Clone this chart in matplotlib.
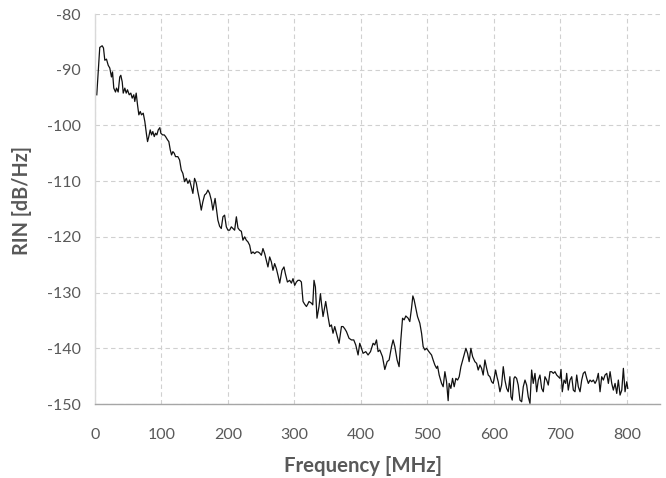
import matplotlib
matplotlib.use("Agg")
import matplotlib.pyplot as plt

freq_mhz = [2.7, 7.2, 10.8, 12.8, 14.8, 17.3, 19.9, 22.3, 24.8, 26.4, 28.3, 30.9, 32.4, 34.9, 37.3, 38.9,
            41.0, 42.5, 44.9, 47.0, 48.9, 51.5, 53.9, 56.0, 58.4, 59.9, 62.0, 64.0, 66.0, 68.1, 70.0, 72.6,
            75.0, 77.6, 79.1, 81.0, 83.1, 85.1, 87.0, 89.2, 91.1, 93.1, 95.2, 97.6, 99.1, 101.7, 104.2, 106.2,
            109.2, 111.1, 113.3, 115.2, 117.2, 119.3, 121.2, 124.7, 127.3, 129.8, 132.2, 134.8, 137.3, 139.8,
            142.3, 144.9, 147.3, 149.8, 152.4, 154.8, 157.4, 159.9, 162.3, 164.9, 167.5, 169.9, 172.4, 175.0,
            177.4, 180.7, 182.5, 184.9, 187.5, 190.0, 192.5, 195.0, 197.6, 200.0, 202.6, 205.1, 207.5, 210.1,
            212.7, 215.1, 217.6, 220.2, 222.6, 225.2, 227.7, 230.1, 232.7, 235.2, 237.7, 240.2, 242.8, 245.2,
            247.7, 250.3, 252.7, 255.3, 257.8, 260.2, 262.8, 265.4, 267.8, 270.3, 272.9, 275.3, 277.9, 281.3,
            284.3, 286.4, 289.5, 292.9, 295.5, 297.9, 300.5, 303.0, 305.4, 308.0, 310.5, 313.0, 315.5, 318.1,
            320.0, 322.0, 325.6, 327.6, 329.5, 331.6, 334.0, 337.0, 339.2, 340.7, 343.1, 347.1, 350.6, 353.2,
            355.7, 358.1, 360.7, 363.3, 365.2, 367.2, 370.8, 373.2, 375.8, 378.3, 382.2, 385.8, 389.3, 392.3,
            395.8, 398.3, 400.9, 403.3, 407.4, 410.8, 414.5, 418.4, 420.9, 423.5, 425.9, 428.5, 432.5, 436.0,
            439.5, 442.5, 446.1, 448.5, 451.1, 454.5, 457.5, 460.1, 462.7, 465.1, 467.6, 471.1, 473.6, 476.2,
            478.2, 480.1, 482.2, 485.2, 488.7, 491.3, 493.7, 496.2, 498.8, 502.3, 506.3, 508.7, 511.3, 513.9,
            515.4, 517.8, 521.4, 523.8, 526.4, 528.9, 531.3, 532.8, 535.4, 537.9, 540.4, 542.9, 545.5, 547.9,
            550.5, 553.9, 558.0, 560.5, 562.9, 565.5, 568.1, 571.5, 574.1, 576.5, 579.1, 581.6, 584.0, 586.6,
            589.2, 591.6, 594.1, 596.7, 599.1, 602.7, 604.7, 606.6, 609.2, 611.7, 614.2, 616.7, 619.3, 621.7,
            624.2, 625.8, 627.7, 630.3, 631.8, 634.3, 636.7, 639.3, 641.9, 644.3, 646.9, 649.4, 651.8, 654.4,
            656.9, 659.3, 661.9, 664.5, 666.9, 669.4, 672.0, 674.4, 676.9, 679.5, 681.9, 684.5, 687.0, 689.5,
            692.0, 694.6, 697.0, 699.5, 701.1, 703.0, 705.6, 708.1, 709.6, 712.0, 714.6, 717.2, 719.6, 722.1,
            724.7, 727.1, 729.7, 732.2, 734.6, 737.2, 739.8, 742.2, 744.7, 747.3, 749.7, 752.3, 754.8, 757.2,
            759.8, 762.3, 764.8, 767.3, 769.9, 772.3, 774.9, 777.4, 779.8, 782.4, 784.9, 787.3, 789.9, 792.5,
            794.9, 797.4, 800.0, 801.5]

rin_db = [-94.5, -86.0, -85.7, -86.1, -88.3, -88.1, -89.2, -89.7, -91.3, -90.4, -93.3, -94.0, -93.3, -94.0, -91.3, -91.0,
          -92.2, -94.2, -93.3, -94.2, -93.6, -94.5, -94.2, -95.1, -94.5, -95.7, -94.2, -96.3, -98.1, -97.5, -98.1, -97.8,
          -99.3, -101.7, -102.9, -102.0, -100.8, -101.7, -101.1, -102.0, -101.4, -101.7, -100.8, -100.4, -101.4, -101.7, -101.7, -102.0,
          -102.6, -102.9, -104.4, -105.3, -104.7, -105.0, -105.6, -105.6, -106.2, -108.0, -108.6, -110.1, -109.5, -110.4,
          -109.8, -111.0, -112.2, -109.5, -110.3, -111.9, -113.4, -115.2, -113.7, -112.5, -112.2, -111.6, -112.2, -113.4,
          -115.2, -113.1, -114.8, -117.0, -118.1, -118.5, -116.4, -116.1, -118.2, -118.8, -118.8, -118.2, -118.5, -118.8,
          -116.4, -118.4, -118.8, -119.0, -120.6, -120.0, -120.6, -120.9, -121.5, -123.0, -122.7, -123.0, -122.7, -122.7,
          -122.9, -123.3, -122.1, -123.0, -124.2, -125.4, -123.6, -124.5, -126.0, -124.8, -125.7, -126.9, -128.3, -126.0,
          -125.4, -126.6, -128.1, -127.8, -128.3, -127.5, -128.7, -128.1, -127.8, -127.8, -128.1, -131.6, -132.1, -132.5,
          -132.1, -131.6, -131.9, -132.2, -127.8, -129.0, -134.6, -132.5, -130.2, -131.9, -134.3, -131.6, -134.3, -136.1,
          -135.8, -137.3, -136.1, -137.3, -138.2, -139.1, -136.1, -136.1, -136.5, -137.0, -138.2, -138.5, -138.5, -139.4,
          -141.2, -139.1, -140.0, -140.9, -140.6, -141.2, -140.6, -139.1, -139.4, -138.5, -140.6, -140.3, -141.5, -143.8,
          -142.4, -142.1, -139.7, -138.5, -139.7, -142.1, -143.3, -138.5, -134.6, -134.9, -134.2, -134.6, -135.2, -132.8,
          -130.6, -131.3, -132.5, -134.3, -135.5, -137.3, -139.7, -140.3, -140.0, -140.6, -141.2, -142.1, -143.0, -143.6,
          -143.2, -144.8, -146.3, -146.9, -144.2, -146.0, -149.4, -146.3, -147.2, -145.4, -146.9, -145.4, -145.7, -145.1,
          -143.3, -141.8, -140.0, -140.9, -142.4, -140.0, -141.5, -142.4, -142.7, -143.9, -143.0, -143.6, -144.8, -142.1,
          -143.6, -144.8, -145.1, -146.0, -146.3, -143.9, -145.1, -146.0, -147.8, -146.6, -143.3, -145.7, -147.2, -147.8,
          -145.1, -148.7, -149.3, -145.4, -145.1, -145.4, -146.6, -149.3, -149.6, -146.9, -145.7, -146.6, -148.7, -149.9,
          -143.9, -146.3, -144.5, -147.8, -145.7, -144.8, -147.2, -147.8, -145.1, -145.7, -146.6, -144.2, -144.2, -144.5,
          -144.2, -144.8, -145.1, -145.4, -143.8, -147.8, -145.7, -146.3, -144.5, -147.5, -145.7, -145.1, -147.5, -147.8,
          -144.8, -146.9, -147.8, -145.7, -144.5, -144.2, -145.4, -146.3, -145.7, -146.0, -145.7, -146.3, -145.7, -144.5,
          -147.8, -145.1, -145.7, -144.8, -144.5, -146.3, -144.2, -146.3, -147.5, -146.3, -148.1, -145.7, -148.4, -147.5,
          -143.6, -147.8, -146.0, -147.2]

x_ticks = [0, 100, 200, 300, 400, 500, 600, 700, 800]
y_ticks = [-150, -140, -130, -120, -110, -100, -90, -80]
x_label = "Frequency [MHz]"
y_label = "RIN [dB/Hz]"

plt.rcParams['font.family'] = ['Lato', 'DejaVu Sans']
plt.rcParams['axes.unicode_minus'] = False

fig = plt.figure(figsize=(6.66, 4.78), dpi=100)
ax = fig.add_axes([0.1426, 0.1548, 0.8484, 0.8159])

ax.plot(freq_mhz, rin_db, color='#111111', linewidth=0.9)

ax.set_xlim(0, 850)
ax.set_ylim(-150, -80)
ax.set_xticks(x_ticks)
ax.set_yticks(y_ticks)

ax.grid(True, color='#d0d0d0', linestyle=(0, (4, 3)), linewidth=0.8)
ax.set_axisbelow(True)

for s in ['top', 'right']:
    ax.spines[s].set_visible(False)
ax.spines['left'].set_color('#d9d9d9')
ax.spines['bottom'].set_color('#a6a6a6')
ax.spines['left'].set_linewidth(1.0)
ax.spines['bottom'].set_linewidth(1.0)

ax.tick_params(axis='both', length=0, labelsize=11.5, colors='#595959')
ax.tick_params(axis='x', pad=17)
ax.tick_params(axis='y', pad=10)

ax.set_xlabel(x_label, fontsize=14.7, fontweight='bold', color='#595959', va='center')
ax.set_ylabel(y_label, fontsize=14.2, fontweight='bold', color='#595959', va='center')
ax.xaxis.set_label_coords(0.474, -0.159)
ax.yaxis.set_label_coords(-0.129, 0.523)

fig.savefig('out.png', dpi=100)
